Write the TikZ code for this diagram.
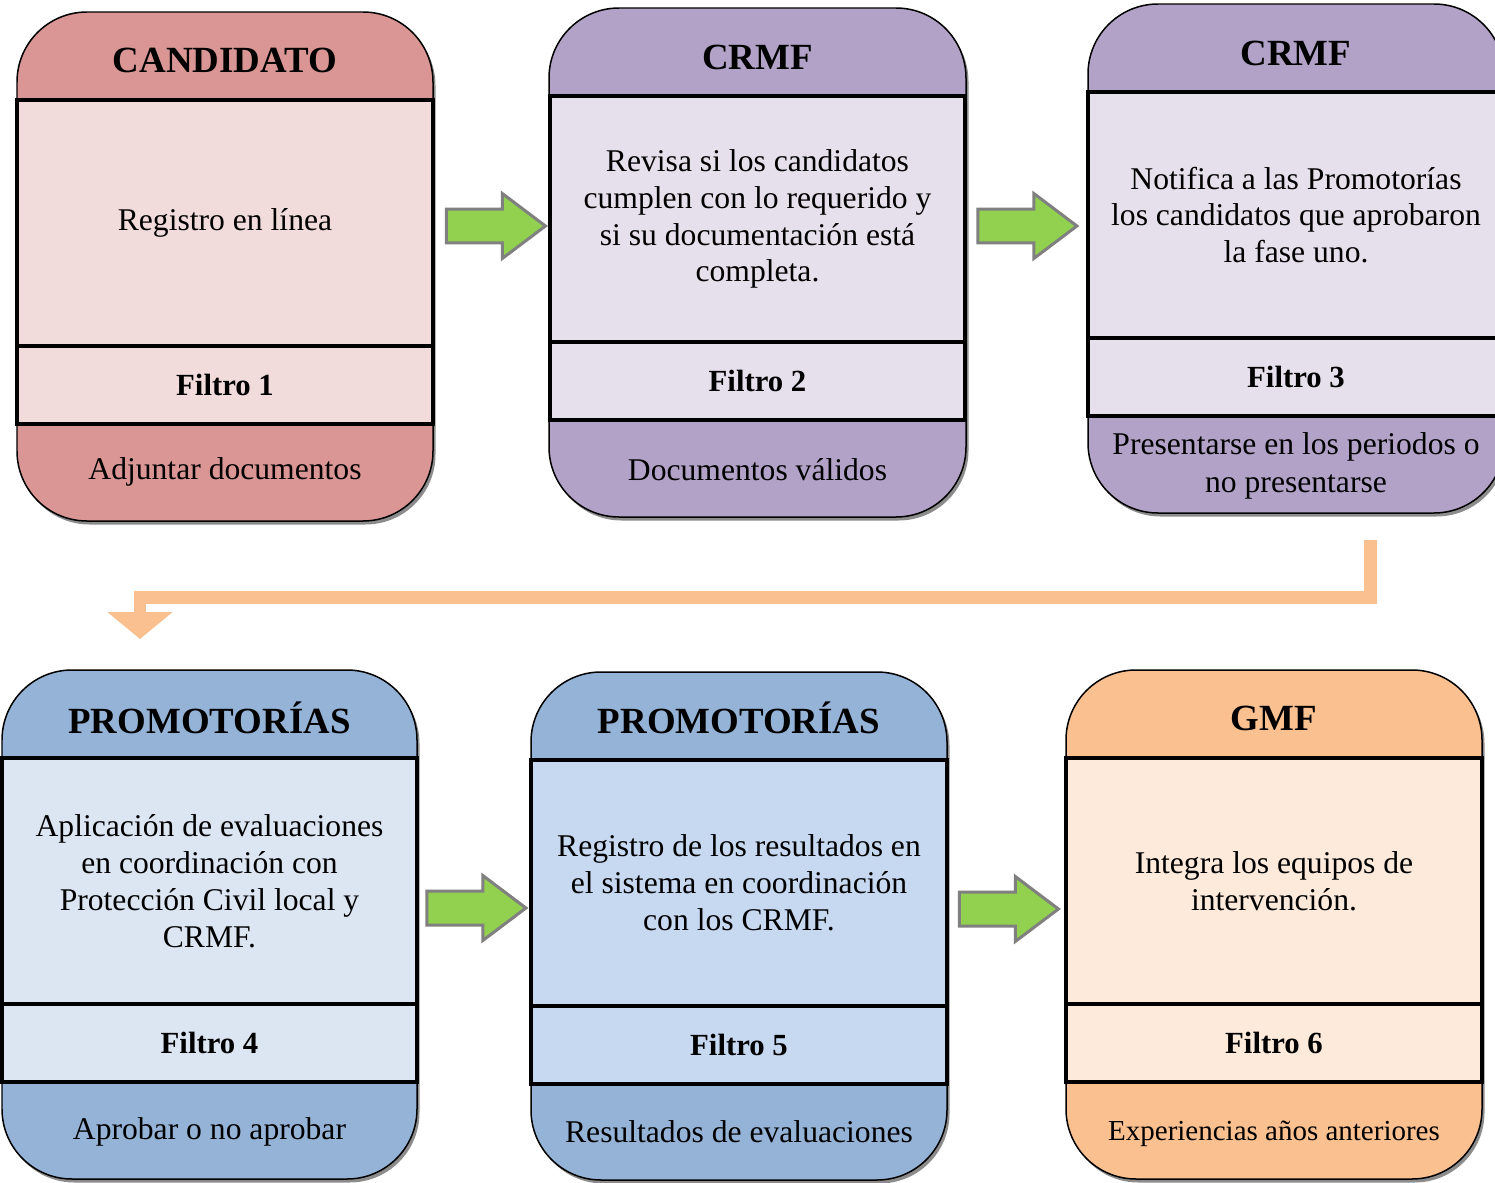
\documentclass[tikz,border=0pt]{standalone}
\usepackage{fontspec}
\setmainfont{Liberation Serif}
\usetikzlibrary{shapes.arrows,shadows,calc,arrows.meta}
\definecolor{rojoA}{HTML}{D99694}
\definecolor{rojoB}{HTML}{F2DCDB}
\definecolor{moradoA}{HTML}{B3A2C7}
\definecolor{moradoB}{HTML}{E5E0EC}
\definecolor{azulA}{HTML}{95B3D7}
\definecolor{azulB}{HTML}{DCE6F2}
\definecolor{azulC}{HTML}{C6D9F1}
\definecolor{naranjaA}{HTML}{FAC090}
\definecolor{naranjaB}{HTML}{FDEADA}
\definecolor{verde}{HTML}{92D050}
\definecolor{gris}{HTML}{808080}
\begin{document}
\begin{tikzpicture}[x=0.02cm,y=-0.02cm,
marco/.style={draw=black, line width=0.03cm, rounded corners=1.4cm, drop shadow={shadow xshift=0.05cm, shadow yshift=-0.07cm, fill=black!45, opacity=1}},
cuerpo/.style={draw, line width=0.08cm, minimum width=8.32cm, minimum height=4.92cm, align=center, inner sep=0pt, font=\fontsize{18}{21}\selectfont},
filtro/.style={draw, line width=0.08cm, minimum width=8.32cm, minimum height=1.56cm, inner sep=0pt, font=\fontsize{17.5}{21}\selectfont\bfseries},
titulo/.style={font=\fontsize{21}{25}\selectfont\bfseries},
pie/.style={align=center, font=\fontsize{18}{22}\selectfont},
flecha/.style={single arrow, anchor=tail, draw=gris, fill=verde, line width=0.06cm, minimum height=1.98cm, inner xsep=0pt, inner ysep=0.31cm, single arrow head extend=0.31cm, single arrow tip angle=74},
naranja/.style={draw=naranjaA, line width=0.26cm, -{Triangle[length=0.54cm,width=1.28cm]}}]
\path[use as bounding box] (0,0) rectangle (1495,1183);
\clip (0,0) rectangle (1495,1183);
% fila de arriba
\draw[marco, fill=rojoA] (17,12) rectangle (433,521);
\node[cuerpo, fill=rojoB] (b1) at (225,223) {Registro en línea};
\node[filtro, fill=rojoB] (f1) at (225,385) {Filtro 1};
\node[titulo] (t1) at (225,60) {CANDIDATO};
\node[pie] (p1) at (225,472) {Adjuntar documentos};
\draw[marco, fill=moradoA] (549,8) rectangle (966,517);
\node[cuerpo, fill=moradoB] (b2) at (757.5,219) {Revisa si los candidatos\\cumplen con lo requerido y\\si su documentación está\\completa.};
\node[filtro, fill=moradoB] (f2) at (757.5,381) {Filtro 2};
\node[titulo] (t2) at (757.5,57) {CRMF};
\node[pie] (p2) at (757.5,470) {Documentos válidos};
\draw[marco, fill=moradoA] (1088,4) rectangle (1504,513);
\node[cuerpo, fill=moradoB] (b3) at (1296,215) {Notifica a las Promotorías\\los candidatos que aprobaron\\la fase uno.};
\node[filtro, fill=moradoB] (f3) at (1296,377) {Filtro 3};
\node[titulo] (t3) at (1296,53) {CRMF};
\node[pie] (p3) at (1296,466) {Presentarse en los periodos o\\no presentarse};
% fila de abajo
\draw[marco, fill=azulA] (2,670) rectangle (417,1179);
\node[cuerpo, fill=azulB] (b4) at (209.5,881) {Aplicación de evaluaciones\\en coordinación con\\Protección Civil local y\\CRMF.};
\node[filtro, fill=azulB] (f4) at (209.5,1043) {Filtro 4};
\node[titulo] (t4) at (209.5,718) {PROMOTORÍAS};
\node[pie] (p4) at (209.5,1132) {Aprobar o no aprobar};
\draw[marco, fill=azulA] (531,672) rectangle (947,1180);
\node[cuerpo, fill=azulC] (b5) at (739,883) {Registro de los resultados en\\el sistema en coordinación\\con los CRMF.};
\node[filtro, fill=azulC] (f5) at (739,1045) {Filtro 5};
\node[titulo] (t5) at (739,718) {PROMOTORÍAS};
\node[pie] (p5) at (739,1132) {Resultados de evaluaciones};
\draw[marco, fill=naranjaA] (1066,670) rectangle (1482,1179);
\node[cuerpo, fill=naranjaB] (b6) at (1274,881) {Integra los equipos de\\intervención.};
\node[filtro, fill=naranjaB] (f6) at (1274,1043) {Filtro 6};
\node[titulo] (t6) at (1274,718) {GMF};
\node[pie, font=\fontsize{16.5}{20}\selectfont] (p6) at (1274,1134) {Experiencias años anteriores};
% flechas
\node[flecha] (g1) at ($(b1.east)+(10,3)$) {};
\node[flecha] (g2) at ($(b2.east)+(9,7)$) {};
\node[flecha] (g3) at ($(b4.east)+(6,27)$) {};
\node[flecha] (g4) at ($(b5.east)+(9,26)$) {};
\coordinate (o1) at (1370,540);
\coordinate (o2) at (140,639);
\draw[naranja] (o1) -- ++(0,57) -| (o2);
\end{tikzpicture}
\end{document}
